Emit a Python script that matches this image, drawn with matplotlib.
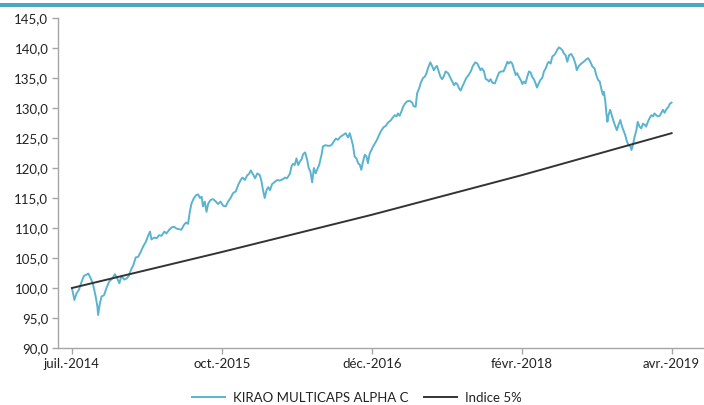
import matplotlib
matplotlib.use("Agg")
import matplotlib.pyplot as plt
from matplotlib.patches import Rectangle

# -------------------
# Data (days since start of series, base 100)
# -------------------
fund_days = [
    0, 7, 13, 20, 28, 34, 47, 54, 61, 68, 73, 75, 80, 85, 92, 99, 107, 116, 123, 130,
    136, 142, 150, 157, 163, 169, 176, 183, 190, 198, 204, 212, 219, 224, 228, 236, 243, 250, 257, 265,
    271, 279, 286, 293, 300, 308, 314, 321, 327, 333, 338, 343, 350, 357, 362, 367, 372, 376, 381, 386,
    391, 398, 405, 413, 419, 426, 434, 441, 448, 455, 462, 470, 477, 484, 489, 496, 503, 508, 513, 518,
    525, 532, 539, 544, 548, 553, 558, 563, 568, 574, 582, 589, 596, 604, 611, 617, 625, 630, 634, 639,
    644, 649, 654, 659, 663, 669, 675, 679, 684, 689, 694, 699, 703, 709, 716, 720, 727, 735, 738, 744,
    751, 757, 763, 770, 778, 785, 792, 797, 802, 806, 811, 816, 821, 826, 830, 835, 840, 845, 849, 854,
    859, 864, 869, 875, 881, 888, 894, 900, 907, 914, 919, 926, 931, 935, 940, 945, 950, 955, 961, 969,
    976, 980, 986, 990, 996, 1000, 1007, 1012, 1017, 1021, 1028, 1033, 1038, 1043, 1047, 1052, 1057, 1062, 1066, 1072,
    1079, 1086, 1091, 1096, 1101, 1106, 1110, 1115, 1120, 1125, 1131, 1138, 1144, 1150, 1157, 1163, 1168, 1172, 1176, 1182,
    1187, 1192, 1196, 1201, 1206, 1213, 1219, 1225, 1232, 1238, 1244, 1249, 1253, 1258, 1263, 1268, 1273, 1277, 1282, 1287,
    1292, 1296, 1301, 1306, 1311, 1316, 1320, 1325, 1330, 1334, 1339, 1344, 1349, 1354, 1359, 1364, 1368, 1373, 1378, 1383,
    1387, 1392, 1397, 1402, 1407, 1411, 1416, 1421, 1426, 1432, 1439, 1445, 1448, 1454, 1461, 1468, 1475, 1481, 1487, 1493,
    1499, 1504, 1509, 1514, 1518, 1523, 1526, 1530, 1533, 1536, 1539, 1544, 1549, 1554, 1559, 1563, 1568, 1573, 1578, 1582,
    1587, 1592, 1597, 1602, 1605, 1609, 1614, 1619, 1623, 1628, 1633, 1638, 1643, 1647, 1652, 1657, 1662, 1667, 1671, 1676,
    1681, 1686, 1691, 1695, 1700, 1705, 1710, 1715, 1720,
]
fund_values = [
    100.0, 98.0, 99.1, 99.7, 101.1, 102.0, 102.4, 101.6, 100.5, 98.6, 96.9, 95.5, 97.4, 98.6, 98.8, 100.0, 101.1, 101.6, 102.3, 101.6,
    100.8, 102.0, 101.4, 101.6, 102.0, 103.0, 103.8, 105.1, 105.2, 106.1, 106.9, 107.7, 108.8, 109.4, 108.1, 108.4, 108.3, 108.8, 108.7, 109.4,
    109.1, 109.7, 110.1, 110.2, 109.9, 109.8, 109.7, 110.5, 110.9, 110.7, 112.7, 114.1, 115.0, 115.5, 115.6, 115.0, 115.2, 113.6, 114.4, 112.7,
    114.1, 114.7, 114.8, 114.4, 114.0, 114.4, 113.7, 113.6, 114.4, 115.0, 115.8, 116.1, 117.2, 118.0, 118.4, 118.0, 118.8, 119.0, 119.6, 119.1,
    118.3, 119.1, 118.8, 117.7, 116.3, 115.0, 116.3, 116.8, 116.3, 117.3, 117.7, 118.0, 117.9, 118.1, 118.4, 118.3, 119.0, 120.3, 120.7, 120.5,
    121.6, 120.5, 121.1, 121.5, 122.3, 122.6, 121.3, 120.0, 119.4, 117.6, 120.0, 119.1, 119.7, 120.5, 122.2, 123.6, 123.8, 123.7, 123.7, 123.8,
    124.4, 124.9, 124.7, 125.2, 125.5, 125.8, 125.1, 125.8, 124.7, 123.8, 121.9, 121.6, 120.8, 120.5, 119.7, 121.1, 122.2, 121.9, 120.8, 122.4,
    123.0, 123.6, 124.1, 124.7, 125.5, 126.3, 126.8, 127.0, 127.6, 127.9, 128.3, 128.8, 128.6, 129.1, 128.7, 129.4, 130.2, 130.7, 131.1, 131.2,
    130.9, 130.3, 130.2, 132.4, 133.3, 134.1, 135.0, 135.2, 135.8, 136.6, 137.6, 137.0, 136.3, 136.8, 137.0, 136.1, 135.2, 134.8, 135.2, 136.1,
    135.8, 135.0, 134.4, 133.8, 134.2, 133.9, 133.3, 132.9, 133.6, 134.2, 135.0, 135.5, 136.1, 137.0, 137.6, 137.4, 136.8, 136.3, 136.6, 136.1,
    134.8, 134.7, 134.4, 134.8, 134.2, 134.1, 135.0, 135.9, 136.1, 136.1, 136.9, 137.7, 137.4, 137.7, 137.4, 136.4, 135.5, 135.8, 135.2, 134.7,
    134.0, 134.4, 134.1, 135.2, 136.1, 135.9, 135.2, 134.8, 134.1, 133.4, 134.1, 134.7, 135.0, 136.1, 136.6, 137.4, 137.7, 137.4, 138.6, 138.8,
    139.1, 139.7, 140.1, 139.9, 139.6, 139.1, 138.8, 137.7, 138.8, 139.0, 138.3, 137.2, 136.3, 137.0, 137.4, 137.7, 138.1, 138.3, 137.7, 136.9,
    136.6, 135.5, 134.7, 134.4, 133.3, 132.2, 132.7, 131.1, 129.1, 127.7, 128.8, 129.7, 128.7, 127.7, 126.9, 126.3, 127.2, 128.0, 126.9, 126.3,
    125.5, 124.4, 123.8, 123.6, 123.0, 123.8, 125.2, 126.3, 127.7, 126.9, 126.6, 127.4, 127.2, 126.9, 127.7, 128.3, 128.8, 128.6, 129.1, 128.8,
    128.6, 128.7, 129.2, 129.7, 129.2, 129.8, 130.1, 130.7, 130.9,
]

index_days = [0, 430, 860, 1290, 1720]
index_values = [100.0, 106.0, 112.2, 118.8, 125.8]

tick_days = [0, 430, 860, 1290, 1720]
tick_labels = ["juil.-2014", "oct.-2015", "déc.-2016", "févr.-2018", "avr.-2019"]
y_ticks = [90, 95, 100, 105, 110, 115, 120, 125, 130, 135, 140, 145]

FONT = "Lato"
AXIS_GREY = "#a6a6a6"

# -------------------
# Plot
# -------------------
fig = plt.figure(figsize=(7.04, 4.05), dpi=100)
ax = fig.add_axes([0.0824, 0.1407, 0.9156, 0.8149])

ax.plot(fund_days, fund_values, color="#5ab4d0", lw=1.4, label="KIRAO MULTICAPS ALPHA C")
ax.plot(index_days, index_values, color="#333333", lw=1.4, label="Indice 5%")

ax.set_xlim(-40, 1809)
ax.set_ylim(90, 145)
ax.set_yticks(y_ticks)
ax.set_yticklabels([f"{v:.1f}".replace(".", ",") for v in y_ticks])
ax.set_xticks(tick_days)
ax.set_xticklabels(tick_labels)

for side in ["top", "right"]:
    ax.spines[side].set_visible(False)
for side in ["left", "bottom"]:
    ax.spines[side].set_color(AXIS_GREY)
    ax.spines[side].set_linewidth(1.0)

ax.tick_params(axis="both", direction="out", length=4, width=1.0, color=AXIS_GREY,
               labelsize=9.5, labelcolor="#222222", pad=3)
for lbl in ax.get_xticklabels() + ax.get_yticklabels():
    lbl.set_fontfamily(FONT)

leg = fig.legend(loc="center", bbox_to_anchor=(0.507, 0.017), ncol=2, frameon=False,
                 prop={"family": FONT, "size": 9.5}, handlelength=2.5, columnspacing=1.2,
                 handletextpad=0.6)
for t in leg.get_texts():
    t.set_color("#222222")

# teal band on top
fig.add_artist(Rectangle((0, 1 - 7 / 405), 1, 4 / 405, transform=fig.transFigure,
                         color="#4ba6c4", lw=0))

plt.savefig("out.png", dpi=100)
plt.close()
